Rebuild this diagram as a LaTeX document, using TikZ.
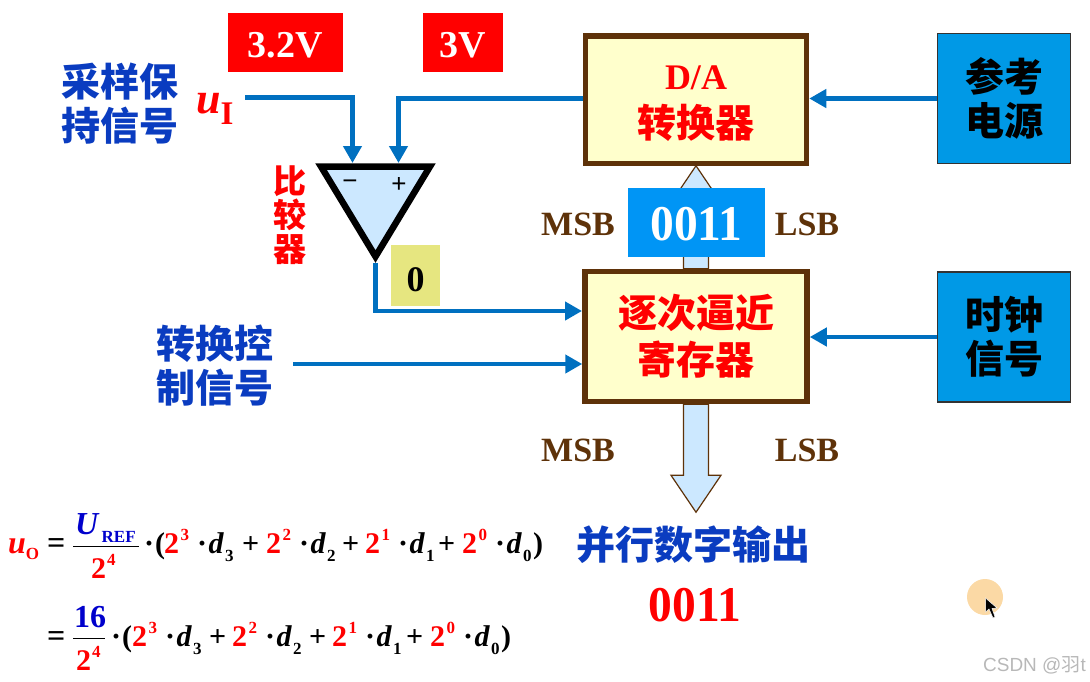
\documentclass[tikz,border=0pt]{standalone}
\usepackage{fontspec}
\setmainfont{Liberation Serif}
\newfontfamily\cjk{Noto Sans CJK SC}
\newfontfamily\wmfont{Liberation Sans}
\usetikzlibrary{arrows.meta}
\definecolor{sigblue}{HTML}{0070C0}
\definecolor{labelblue}{HTML}{0A3CC0}
\definecolor{brownline}{HTML}{5E3209}
\definecolor{paleblue}{HTML}{CCE8FF}
\definecolor{paleyellow}{HTML}{FFFFCC}
\definecolor{flagyellow}{HTML}{E6E680}
\definecolor{srcblue}{HTML}{0099E6}
\definecolor{codeblue}{HTML}{0095F5}
\definecolor{spotcolor}{HTML}{FBD9A5}
\newcommand{\fs}[1]{\fontsize{#1}{#1}\selectfont}
\newcommand{\powterm}[2]{\textcolor{red}{2}\kern1.5pt\raisebox{13pt}{\fs{17}\textcolor{red}{#1}}\kern8pt·\kern1.5pt\textit{d}\kern1pt\raisebox{-8pt}{\fs{17}#2}}
\tikzset{
    sigline/.style={draw=sigblue,line width=4.4pt,-{Triangle[length=17pt,width=18pt]}},
    busarrow/.style={draw=brownline,line width=1.2pt,fill=paleblue},
    blockbox/.style={draw=brownline,line width=5.5pt,fill=paleyellow,font=\cjk\bfseries\fontsize{39}{47}\selectfont,text=red,align=center},
    srcbox/.style={draw=black!80,line width=1.8pt,fill=srcblue,minimum width=133,minimum height=130,font=\cjk\bfseries\fontsize{39}{44}\selectfont,align=center},
    redtag/.style={fill=red,text=white,font=\bfseries\fs{38},minimum height=59,text height=29pt,text depth=0pt},
    bluelabel/.style={text=labelblue,font=\cjk\bfseries\fontsize{39}{44}\selectfont,align=center,inner sep=0pt},
    msb/.style={text=brownline,font=\bfseries\fs{34},inner sep=0pt},
    formula/.style={font=\bfseries\fs{30},inner sep=0pt,anchor=base west},
}
\begin{document}
\begin{tikzpicture}[x=1pt,y=-1pt]
    \useasboundingbox (0,0) rectangle (1090,681);
    % blocks
    \node[blockbox,minimum width=221,minimum height=127.5] (da) at (696,99.5) {\rule{0pt}{33pt}\textcolor{red}{\rmfamily\fs{36}D/A}\\[1pt]转换器};
    \node[blockbox,minimum width=222,minimum height=130] (sar) at (696,336.5) {逐次逼近\\寄存器};
    \node[srcbox] (refsrc) at (1004,98.5) {参考\\电源};
    \node[srcbox] (clk) at (1004,337) {时钟\\信号};
    % buses
    \draw[busarrow] (sar.north) ++(-12.5,0) -- ++(0,-66) -- ++(-12.5,0) -- ++(25,-37) -- ++(25,37) -- ++(-12.5,0) -- ++(0,66) -- cycle;
    \draw[busarrow] (sar.south) ++(-12.5,0) -- ++(0,71) -- ++(-12.5,0) -- ++(25,37) -- ++(25,-37) -- ++(-12.5,0) -- ++(0,-71) -- cycle;
    \node[fill=codeblue,text=white,font=\bfseries\fs{50},minimum width=137,minimum height=69,text height=36.5pt,text depth=0pt] (code) at (696.5,222.5) {\scalebox{.95}[1]{0011}};
    % comparator
    \coordinate (cmpl) at (321,166.5);
    \coordinate (cmpr) at (430,166.5);
    \coordinate (apex) at (375.5,256.5);
    \coordinate (cmpout) at (375.5,263);
    \coordinate (minus) at (352.5,163);
    \coordinate (plus) at (398.5,163);
    \coordinate (sarin) at (582,311);
    \node[fill=flagyellow,minimum width=49,minimum height=61,font=\bfseries\fs{36},inner sep=0pt,text height=32pt,text depth=0pt] (flag) at (415.5,275.5) {0};
    \draw[sigline] (cmpout) |- (sarin);
    \draw[line width=6.5pt,fill=paleblue,miter limit=10] (cmpl) -- (cmpr) -- (apex) -- cycle;
    \node[font=\wmfont\fs{26},inner sep=0pt] (minussign) at (350,185) {−};
    \node[font=\wmfont\fs{26},inner sep=0pt] (plussign) at (399,185) {+};
    % inputs
    \node[text=red,font=\bfseries\itshape\fs{44},inner sep=0pt,anchor=base west] (ui) at (196,113) {u\raisebox{-11pt}{\upshape\fs{33}I}};
    \coordinate (uistart) at (245,97.5);
    \draw[sigline] (uistart) -| (minus);
    \draw[sigline] (da.west |- refsrc.west) -| (plus);
    \draw[sigline] (refsrc.west) -- (refsrc.west -| da.east);
    \draw[sigline] (clk.west) -- (clk.west -| sar.east);
    \coordinate (startsig) at (293,364);
    \draw[sigline] (startsig) -- (sar.west |- startsig);
    % labels
    \node[redtag,minimum width=115] (tagu) at (285,42.5) {3.2V};
    \node[redtag,minimum width=80.5] (tagv) at (463.2,42.5) {3V};
    \node[bluelabel] (sh) at (120,104) {采样保\\持信号};
    \node[text=red,font=\cjk\bfseries\fontsize{33}{34}\selectfont,align=center,inner sep=0pt] (cmpname) at (290,215) {比\\较\\器};
    \node[bluelabel] (startname) at (215,366) {转换控\\制信号};
    \node[msb] (msba) at (578,224) {MSB};
    \node[msb] (lsba) at (807,224) {LSB};
    \node[msb] (msbb) at (578,450) {MSB};
    \node[msb] (lsbb) at (807,450) {LSB};
    \node[bluelabel] (outname) at (693,545) {并行数字输出};
    \node[text=red,font=\bfseries\fs{50},inner sep=0pt] (outcode) at (695,605) {\scalebox{.95}[1]{0011}};
    % first row
    \node[formula,text=red,font=\bfseries\fs{32}] (uo) at (8,553) {\textit{u}\raisebox{-6pt}{\fs{17}O}};
    \node[formula,font=\bfseries\fs{32}] (eqa) at (47,553) {=};
    \node[formula,text=blue!80!black,font=\bfseries\fs{32}] (uref) at (75,534) {\textit{U}\kern2pt\raisebox{-8pt}{\fs{17}REF}};
    \node[formula,text=red] (dena) at (91,578) {2\kern1pt\raisebox{13pt}{\fs{17}4}};
    \draw[line width=1pt] (73,546) -- (139,546);
    \node[formula] (opena) at (144,553) {·\kern1pt(};
    \foreach \tx/\te [count=\ti] in {164/3,266/2,365/1,462/0} {
        \node[formula] (terma\ti) at (\tx,553) {\powterm{\te}{\te}};
    }
    \foreach \tx [count=\ti] in {242,342,438} {
        \node[formula] (plusa\ti) at (\tx,553) {+};
    }
    \node[formula] (closea) at (533,553) {)};
    % second row
    \node[formula,font=\bfseries\fs{32}] (eqb) at (47,646) {=};
    \node[formula,text=blue!80!black,font=\bfseries\fs{32}] (numb) at (74,627) {16};
    \node[formula,text=red] (denb) at (76,670) {2\kern1pt\raisebox{13pt}{\fs{17}4}};
    \draw[line width=1pt] (73,638) -- (105,638);
    \node[formula] (openb) at (111,646) {·\kern1pt(};
    \foreach \tx/\te [count=\ti] in {132/3,232/2,332/1,430/0} {
        \node[formula] (termb\ti) at (\tx,646) {\powterm{\te}{\te}};
    }
    \foreach \tx [count=\ti] in {209,309,406} {
        \node[formula] (plusb\ti) at (\tx,646) {+};
    }
    \node[formula] (closeb) at (501,646) {)};
    % cursor and watermark
    \fill[spotcolor] (985,597) circle (18);
    \draw[white,line width=.5pt,fill=black] (985.5,598) -- (985.5,612) -- (989,609) -- (993,618) -- (995,617) -- (992,608.5) -- (997,608) -- cycle;
    \node[text=black!28,font=\wmfont\fs{19},inner sep=0pt,anchor=east] (mark) at (1086,665) {CSDN @{\cjk 羽}t};
\end{tikzpicture}
\end{document}
